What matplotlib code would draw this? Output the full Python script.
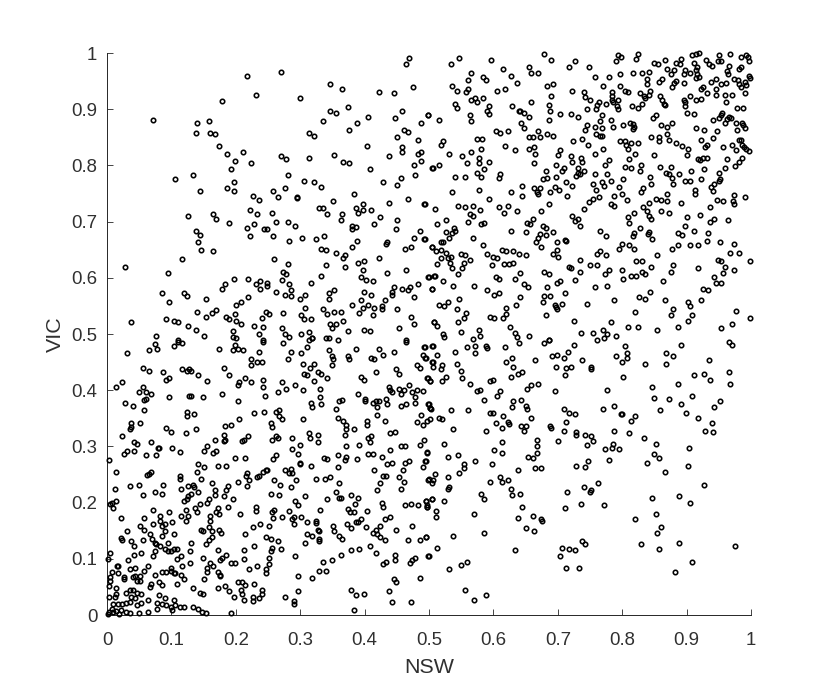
import matplotlib
matplotlib.use('Agg')
import matplotlib.pyplot as plt
import numpy as np

# (NSW, VIC), in thousandths
upper_left = [
    (469,991),(465,980),(217,959),(270,967),(347,944),(365,936),(231,926),(422,931),(445,928),(475,939),
    (299,920),(179,915),(374,904),(347,897),(356,894),(458,897),(499,889),(71,881),(140,876),(158,879),
    (335,879),(388,876),(406,887),(447,884),(488,876),(138,858),(160,858),(167,855),(313,858),(322,852),
    (376,863),(461,863),(467,860),(451,850),(483,845),(174,835),(404,835),(458,832),(458,824),(488,824),
    (483,821),(187,821),(211,824),(270,816),(278,811),(313,813),(353,819),(438,816),(199,808),(224,804),
    (367,806),(376,804),(477,801),(488,808),(505,796),(192,793),(408,793),(106,775),(133,783),(281,783),
    (479,783),(197,770),(306,772),(322,770),(429,770),(456,777),(451,765),(187,760),(197,754),(144,754),
    (258,754),(276,760),(333,762),(226,746),(265,744),(295,744),(295,742),(236,739),(383,749),(467,741),
    (351,736),(438,733),(492,731),(222,721),(329,724),(335,724),(386,724),(397,731),(397,721),(410,721),
    (390,715),(126,710),(165,713),(169,705),(233,713),(256,715),(342,713),(365,713),(424,708),(363,702),
    (451,702),(190,697),(262,700),(281,700),(229,695),(292,692),(415,695),(381,692),(381,687),(386,690),
    (217,689),(244,687),(249,687),(138,684),(449,687),(486,684),(144,676),(222,674),(258,674),(337,674),
    (303,671),(324,669),(283,666),(388,666),(477,671),(492,669),(142,663),(435,663),(433,661),(381,655),
    (472,655),(463,652),(504,655),(333,652),(340,650),(146,650),(165,648),(356,645),(369,640),(367,635),
    (422,635),(117,633),(260,633),(390,627),(399,630),(281,624),(340,622),(28,619),(369,619),(274,611),
    (278,606),(397,613),(465,613),(94,609),(435,609),(333,604),(499,601),(507,604),(197,598),(219,598),
    (272,596),(395,601),(402,596),(413,594),(238,594),(231,589),(249,591),(249,585),(316,591),(283,589),
    (183,589),(179,580),(238,580),(286,578),(445,584),(443,575),(443,570),(458,580),(470,584),(467,578),
    (483,589),(504,580),(353,578),(345,573),(85,573),(119,573),(124,567),(262,575),(276,570),(286,567),
    (308,570),(399,575),(410,570),(153,562),(219,565),(299,562),(345,562),(477,565),(431,560),(395,560),
    (97,557),(208,557),(201,552),(381,552),(406,552),(415,547),(397,547),(427,550),(427,545),(308,547),
    (335,545),(451,545),(140,540),(169,543),(163,538),(247,540),(252,535),(274,538),(353,540),(363,540),
    (392,538),(199,535),(342,535),(153,531),(185,531),(190,526),(301,533),(306,526),(317,526),(240,528),
    (413,533),(472,531),(92,526),(104,523),(110,521),(37,521),(201,523),(208,518),(367,523),(347,518),
    (356,518),(349,510),(477,518),(507,521),(126,515),(138,508),(229,515),(242,513),(272,510),(454,510),
    (399,508),(408,505),(374,505),(195,505),(236,500),(301,500),(313,503),(276,500),(283,494),(76,497),
    (151,497),(195,494),(201,492),(319,492),(340,492),(345,492),(358,490),(110,489),(465,489),(242,489),
]

upper_right = [
    (534,980),(547,991),(597,988),(679,998),(690,988),(615,972),(656,975),(659,965),(670,965),(718,975),
    (727,985),(748,975),(791,985),(793,996),(798,993),(822,990),(825,998),(565,965),(627,959),(584,957),
    (588,952),(561,952),(636,946),(757,957),(780,957),(796,962),(816,965),(830,965),(841,967),(839,954),
    (839,944),(850,983),(855,980),(866,988),(870,972),(875,962),(884,983),(891,990),(889,980),(881,970),
    (896,962),(898,970),(905,965),(909,996),(914,998),(920,1000),(912,983),(916,975),(914,970),(930,988),
    (935,981),(940,977),(948,985),(950,996),(953,985),(968,998),(984,993),(993,996),(995,993),(997,985),
    (966,977),(962,968),(964,962),(984,975),(981,972),(916,962),(919,957),(914,955),(945,954),(938,948),
    (857,948),(862,954),(883,950),(880,946),(896,946),(878,939),(926,939),(923,936),(945,936),(954,944),
    (961,946),(973,954),(980,952),(997,959),(999,955),(990,948),(981,944),(984,939),(992,943),(536,941),
    (543,933),(557,931),(561,936),(606,933),(618,936),(683,941),(692,944),(722,933),(770,941),(797,941),
    (805,933),(809,931),(741,931),(743,922),(750,916),(784,931),(784,923),(784,916),(843,933),(827,928),
    (834,923),(836,920),(841,926),(859,923),(862,917),(865,910),(866,907),(905,923),(896,917),(898,913),
    (898,905),(914,917),(923,919),(932,928),(945,926),(959,926),(971,926),(991,928),(961,913),(690,923),
    (686,908),(688,897),(659,913),(565,917),(572,920),(575,913),(584,920),(540,910),(543,903),(593,905),
    (590,897),(593,892),(629,905),(639,896),(642,897),(647,894),(656,887),(563,889),(565,879),(499,889),
    (515,881),(686,881),(704,892),(720,892),(732,887),(745,900),(759,900),(761,907),(764,912),(775,910),
    (786,913),(794,916),(792,905),(794,900),(815,905),(825,902),(831,910),(768,889),(766,879),(782,881),
    (852,890),(848,884),(900,894),(911,892),(979,902),(988,902),(955,894),(953,890),(950,884),(941,881),
    (966,887),(969,884),(963,883),(812,876),(817,873),(819,869),(816,865),(802,871),(786,869),(768,866),
    (757,869),(745,871),(743,863),(861,871),(870,869),(877,876),(977,876),(986,876),(988,871),(990,866),
    (979,863),(959,876),(914,866),(927,863),(947,861),(643,876),(648,866),(604,861),(611,858),(622,861),
    (670,861),(672,850),(684,856),(693,853),(655,850),(661,850),(760,855),(765,852),(768,852),(845,850),
    (857,850),(857,843),(873,845),(869,855),(738,847),(724,843),(747,837),(574,847),(583,847),(522,843),
    (518,837),(618,835),(634,827),(655,830),(663,832),(797,843),(804,843),(806,836),(814,840),(824,840),
    (884,840),(893,835),(902,830),(923,845),(932,837),(929,832),(941,848),(970,837),(956,832),(981,845),
    (984,845),(986,836),(989,833),(992,830),(997,825),(977,827),(581,830),(565,824),(531,821),(704,827),
    (701,819),(665,821),(663,804),(770,830),(757,821),(809,830),(820,821),(811,811),(850,819),(900,819),
    (552,816),(559,804),(577,813),(577,804),(593,806),(720,816),(722,806),(736,813),(738,806),(780,809),
    (773,801),(917,811),(921,810),(932,813),(925,813),(986,813),(982,806),(975,799),(963,811),(506,795),
    (515,801),(586,793),(575,787),(581,780),(681,790),(697,801),(709,796),(706,790),(731,796),(740,790),
    (732,786),(728,782),(735,785),(804,798),(813,796),(829,801),(827,790),(858,798),(875,798),(868,787),
    (873,785),(877,777),(879,767),(927,793),(907,790),(888,785),(959,796),(950,787),(610,784),(608,778),
    (540,780),(556,780),(677,775),(684,777),(697,780),(757,785),(777,785),(782,772),(768,770),(771,764),
    (754,767),(802,775),(795,762),(843,780),(845,767),(898,772),(905,772),(923,775),(952,776),(950,773),
    (943,767),(938,762),(713,770),(722,764),(645,764),(663,760),(672,760),(668,753),(670,750),(688,752),
    (695,762),(702,757),(759,757),(833,760),(829,752),(941,755),(913,757),(913,749),(577,756),(536,752),
    (627,752),(645,746),(715,746),(800,749),(788,746),(807,739),(870,749),(852,741),(861,739),(870,736),
    (764,744),(754,741),(593,741),(974,747),(991,744),(972,736),(973,731),(947,739),(956,736),(494,731),
    (510,723),(545,728),(556,726),(568,728),(579,721),(748,735),(740,723),(686,731),(674,718),(891,733),
    (782,731),(787,728),(841,733),(833,726),(838,718),(860,719),(873,715),(936,726),(608,726),(622,728),
    (616,715),(636,718),(563,713),(569,710),(561,700),(722,710),(731,705),(726,701),(734,692),(818,715),
    (809,708),(811,697),(845,705),(841,710),(921,711),(900,708),(964,702),(943,705),(936,700),(661,705),
    (652,697),(657,695),(526,702),(513,695),(581,695),(586,697),(677,692),(682,689),(827,689),(898,692),
    (539,689),(540,683),(536,679),(526,681),(531,671),(627,684),(650,681),(672,678),(681,676),(693,681),
    (670,671),(666,663),(766,684),(775,674),(842,681),(840,678),(847,669),(818,680),(816,674),(911,684),
    (886,679),(893,676),(933,679),(568,670),(494,669),(711,668),(713,666),(932,666),(952,663),(518,663),
    (522,663),(505,655),(511,648),(518,650),(526,645),(584,658),(674,655),(699,663),(699,650),(800,660),
    (795,652),(811,658),(818,652),(878,652),(887,658),(906,658),(918,658),(974,661),(968,645),(982,645),
    (613,650),(619,648),(631,648),(640,643),(651,640),(590,642),(600,637),(606,636),(692,642),(701,637),
    (765,648),(761,642),(775,640),(549,642),(556,640),(563,632),(554,627),(552,617),(529,636),(534,637),
    (533,627),(518,635),(513,624),(536,617),(545,606),(854,640),(734,632),(822,630),(831,630),(948,632),
    (954,630),(959,619),(973,614),(957,609),(998,630),(598,623),(617,624),(624,624),(631,627),(718,619),
    (720,617),(750,622),(761,622),(845,619),(879,622),(875,611),(918,617),(679,611),(686,606),(642,609),
    (634,598),(734,611),(780,613),(773,606),(800,613),(802,598),(813,604),(822,604),(831,611),(836,606),
    (604,601),(608,598),(500,601),(509,604),(522,594),(538,585),(504,580),(704,595),(699,591),(727,596),
    (863,594),(942,601),(945,591),(954,591),(648,589),(654,583),(570,585),(590,578),(683,583),(757,583),
    (777,585),(925,580),(934,578),(843,575),(601,570),(608,573),(679,567),(688,567),(711,573),(826,565),
    (836,562),(641,565),(547,562),(866,560),(922,560),(902,557),(906,550),(677,557),(706,554),(695,552),
    (697,548),(699,544),(745,554),(788,560),(515,552),(524,550),(529,557),(543,544),(635,552),(619,547),
    (879,544),(976,541),(558,538),(554,528),(545,521),(594,531),(601,528),(619,536),(615,528),(681,533),
    (820,539),(875,533),(909,533),(998,528),(725,523),(782,521),(902,523),(508,521),(513,515),(625,513),
    (809,513),(825,513),(886,513),(970,518),(954,510),(854,508),(577,508),(579,497),(569,491),(550,504),
    (522,500),(524,494),(634,502),(636,494),(656,497),(686,490),(736,502),(754,502),(770,508),(777,500),
    (790,497),(772,492),(761,490),
]

lower_left = [
    (74,482),(78,474),(65,471),(104,479),(110,486),(117,484),(31,466),(174,473),(195,471),(199,481),
    (204,473),(211,471),(236,468),(242,486),(274,484),(286,468),(281,455),(301,466),(310,477),(313,489),
    (319,492),(345,471),(349,460),(351,455),(349,445),(374,460),(376,455),(386,473),(422,473),(429,463),
    (445,468),(465,486),(492,476),(490,463),(495,458),(505,479),(410,458),(415,455),(417,432),(224,455),
    (224,445),(233,450),(240,450),(304,447),(315,440),(322,447),(481,445),(486,440),(504,450),(449,437),
    (454,429),(56,440),(65,435),(87,432),(92,419),(97,422),(117,437),(124,435),(128,437),(130,435),
    (181,440),(190,427),(306,429),(310,427),(327,432),(332,429),(342,422),(322,416),(394,424),(399,419),
    (142,427),(156,416),(215,422),(224,414),(242,419),(242,406),(245,390),(205,414),(204,409),(24,414),
    (14,406),(56,406),(49,396),(60,396),(69,393),(272,414),(278,403),(265,396),(292,409),(304,401),
    (331,403),(331,388),(333,375),(317,377),(319,370),(438,406),(440,400),(443,396),(454,403),(461,401),
    (456,393),(469,409),(481,401),(490,398),(474,396),(499,422),(502,416),(479,388),(479,377),(97,388),
    (128,390),(130,390),(149,388),(179,393),(360,380),(365,383),(390,393),(401,385),(401,380),(413,377),
    (417,380),(422,380),(420,370),(420,356),(433,385),(435,375),(456,372),(465,375),(499,375),(501,369),
    (503,367),(28,377),(40,372),(58,382),(60,385),(58,364),(203,380),(124,362),(124,354),(135,357),
    (228,359),(244,362),(263,362),(267,364),(267,354),(272,349),(356,367),(358,351),(367,346),(371,338),
    (371,331),(369,320),(383,331),(404,346),(404,338),(431,346),(488,356),(481,344),(490,338),(497,346),
    (205,349),(304,348),(51,341),(37,341),(37,335),(35,331),(254,341),(256,335),(92,333),(99,325),
    (138,331),(122,323),(192,338),(183,336),(181,321),(181,310),(24,318),(42,308),(47,305),(69,308),
    (219,318),(212,312),(210,310),(263,318),(265,315),(256,312),(288,315),(313,324),(315,315),(327,320),
    (327,308),(406,315),(410,318),(408,308),(440,323),(447,325),(492,312),(167,312),(183,312),(156,300),
    (299,302),(288,295),(296,287),(371,300),(392,302),(456,300),(463,300),(486,302),(79,297),(81,297),
    (101,297),(31,292),(42,292),(26,287),(113,290),(151,292),(165,289),(169,292),(60,284),(76,284),
    (263,284),(258,277),(358,284),(371,282),(369,275),(406,287),(413,287),(427,282),(440,294),(497,290),
    (3,276),(199,279),(215,279),(337,279),(342,277),(388,277),(299,270),(299,268),(435,268),(443,271),
    (463,271),(469,274),(494,274),(490,264),(142,268),(151,264),(172,266),(185,266),(317,266),(358,264),
    (247,258),(242,255),(249,258),(236,248),(233,246),(276,258),(283,252),(288,252),(286,260),(14,255),
    (140,255),(415,258),(429,248),(434,248),(460,258),(62,250),(65,251),(69,255),(113,248),(113,242),
    (146,242),(217,252),(216,248),(221,240),(217,230),(203,237),(260,240),(269,232),(286,227),(294,240),
    (324,242),(338,242),(347,245),(360,235),(454,245),(461,237),(456,224),(424,235),(420,222),(499,240),
    (506,240),(35,229),(49,232),(87,232),(85,216),(12,224),(74,218),(56,214),(126,229),(133,231),
    (135,227),(115,224),(163,235),(167,222),(167,214),(188,229),(185,222),(181,211),(142,218),(130,216),
    (126,211),(124,207),(119,203),(254,216),(267,214),(308,211),(356,218),(361,208),(363,208),(379,214),
    (390,208),(195,206),(158,206),(155,200),(342,206),(504,206),(495,203),(497,196),(497,193),(144,198),
    (292,203),(296,196),(385,198),(427,200),(429,193),(463,196),(472,198),(483,196),(14,203),(7,200),
    (5,198),(10,190),(188,193),(136,190),(140,183),(122,187),(71,187),(83,177),(97,183),(172,190),
    (170,183),(174,179),(231,193),(231,185),(260,187),(256,183),(258,172),(283,185),(331,187),(404,185),
    (374,189),(377,183),(383,183),(115,177),(126,177),(160,177),(160,167),(206,180),(290,175),(288,170),
    (290,162),(301,175),(272,175),(22,172),(58,172),(83,167),(85,158),(101,165),(90,162),(71,162),
    (122,167),(324,167),(324,163),(311,165),(431,170),(440,175),(395,170),(390,165),(386,165),(372,162),
    (379,154),(238,162),(226,157),(252,159),(351,159),(353,149),(51,159),(58,152),(402,157),(424,159),
    (417,152),(413,146),(420,144),(424,139),(431,133),(474,159),(449,152),(146,152),(149,149),(158,157),
    (163,149),(174,152),(177,146),(31,149),(90,149),(67,144),(85,140),(104,144),(327,152),(329,150),
    (215,144),(311,144),(319,140),(360,140),(365,135),(22,137),(24,133),(56,133),(37,131),(70,135),
    (74,129),(76,126),(163,139),(158,133),(154,126),(247,139),(254,136),(265,131),(329,136),(329,131),
    (308,128),(467,133),(486,133),(495,139),(131,128),(94,128),(42,123),(83,123),(229,123),(256,120),
    (270,118),(254,113),(379,116),(392,118),(408,123),(90,118),(94,113),(104,118),(99,113),(74,113),
    (71,105),(108,117),(115,105),(108,100),(129,113),(172,116),(213,116),(5,110),(1,100),(42,107),
    (53,110),(185,107),(176,97),(179,102),(292,105),(363,107),(417,110),(447,107),(447,97),(149,102),
    (213,100),(252,102),(252,90),(33,97),(479,102),(474,98),(470,92),(499,105),(336,94),(349,97),
    (433,94),(429,90),(129,92),(192,92),(199,92),(160,92),(156,84),(165,87),(15,88),(17,87),
    (35,82),(44,84),(63,87),(58,79),(117,87),(221,82),(233,87),(247,81),(99,84),(99,79),
    (104,75),(92,76),(85,76),(74,71),(156,77),(172,76),(247,74),(329,79),(340,79),(8,76),
    (17,74),(5,67),(115,71),(106,74),(119,64),(176,71),(176,69),(44,69),(40,67),(51,69),
    (27,67),(26,64),(297,69),(318,66),(151,64),(486,66),(445,64),(449,58),(47,61),(51,61),
    (5,61),(81,58),(85,53),(69,56),(203,58),(209,58),(215,53),(229,56),(109,56),(67,49),
    (3,51),(14,48),(133,48),(172,48),(183,51),(190,43),(208,45),(240,45),(379,45),(438,42),
    (296,42),(35,45),(40,45),(29,40),(47,40),(144,40),(149,38),(240,38),(210,38),(14,38),
    (12,32),(3,32),(53,37),(37,32),(44,30),(386,35),(399,37),(81,35),(90,30),(104,27),
    (197,32),(226,32),(236,30),(213,27),(226,25),(276,32),(290,25),(290,19),(443,24),(472,24),
    (63,27),(53,22),(47,18),(35,24),(29,22),(24,19),(17,19),(10,19),(78,22),(85,19),
    (92,18),(99,15),(106,17),(113,14),(120,14),(133,14),(142,11),(147,6),(154,4),(78,11),
    (101,9),(63,6),(384,9),(192,4),(8,11),(3,5),(1,1),(14,8),(22,9),(29,6),
    (35,4),(49,4),(19,1),(10,5),
]

lower_right = [
    (494,476),(506,479),(513,463),(540,468),(559,476),(572,479),(572,466),(588,479),(590,475),(618,476),
    (494,458),(506,450),(506,442),(520,445),(518,437),(543,447),(549,435),(551,422),(620,450),(629,458),
    (631,442),(640,484),(665,453),(679,484),(686,489),(725,481),(716,468),(691,460),(699,463),(709,458),
    (738,453),(697,442),(713,440),(720,442),(711,427),(752,442),(752,437),(805,479),(807,466),(807,458),
    (790,460),(800,450),(802,424),(836,447),(868,466),(879,460),(868,447),(891,481),(966,486),(970,481),
    (935,453),(911,427),(927,429),(936,419),(966,432),(968,411),(886,411),(847,406),(849,387),(873,385),
    (909,390),(892,375),(859,364),(899,359),(918,351),(952,380),(943,370),(939,341),(929,328),(941,325),
    (777,401),(770,367),(788,372),(798,357),(800,357),(813,346),(820,354),(788,328),(811,323),(834,315),
    (852,305),(904,297),(849,287),(857,279),(838,271),(866,255),(902,266),(927,232),(888,212),(906,200),
    (847,209),(852,180),(820,170),(861,157),(854,146),(829,126),(857,117),(888,128),(975,123),(909,94),
    (882,76),(738,131),(743,126),(707,120),(718,117),(727,115),(704,105),(713,84),(733,84),(556,45),
    (570,27),(588,35),(531,81),(549,89),(559,94),(634,115),(513,120),(500,105),(538,141),(586,146),
    (495,139),(650,154),(663,149),(638,172),(661,177),(674,170),(676,167),(570,180),(511,185),(511,175),
    (645,193),(711,190),(736,198),(772,196),(715,219),(741,227),(750,219),(752,222),(763,235),(581,216),
    (586,206),(627,224),(629,214),(642,216),(524,203),(504,206),(495,203),(497,193),(611,246),(613,237),
    (622,240),(595,237),(529,245),(529,224),(531,227),(500,242),(504,235),(509,251),(547,253),(554,261),
    (554,268),(545,284),(572,274),(598,268),(638,258),(665,261),(674,261),(729,266),(743,263),(747,274),
    (779,276),(774,295),(784,297),(795,295),(786,305),(745,302),(754,310),(752,318),(743,321),(729,326),
    (729,320),(701,310),(709,328),(713,344),(727,357),(718,360),(709,367),(688,336),(690,333),(668,312),
    (668,300),(668,289),(654,281),(661,279),(613,307),(601,294),(613,289),(643,336),(650,336),(647,328),
    (659,351),(604,341),(613,333),(623,344),(624,339),(588,328),(615,354),(595,359),(599,359),(629,370),
    (631,380),(643,383),(650,372),(652,367),(586,383),(606,390),(611,398),(695,398),(670,411),(659,409),
    (652,403),(574,398),(579,401),(627,424),(638,429),(645,432),(595,416),(599,419),(497,422),(501,416),
    (520,416),(526,424),(563,411),(500,375),(501,368),(534,364),(561,364),(515,351),(520,349),(501,349),
    (538,331),(524,305),(497,289),(529,281),(495,274),
]

x_ticks = [0, 0.1, 0.2, 0.3, 0.4, 0.5, 0.6, 0.7, 0.8, 0.9, 1]
tick_labels = ['0', '0.1', '0.2', '0.3', '0.4', '0.5', '0.6', '0.7', '0.8', '0.9', '1']

points = np.array(upper_left + upper_right + lower_left + lower_right) / 1000
nsw = points[:, 0]
vic = points[:, 1]

plt.rcParams['font.family'] = ['Liberation Sans', 'DejaVu Sans']
GRAY = '#262626'
TEXT = '#303030'

fig = plt.figure(figsize=(8.30, 6.92), dpi=100)
ax = fig.add_axes([107 / 830, 1 - 615 / 692, 644 / 830, 562 / 692])

ax.plot(nsw, vic, 'o', mfc='none', mec='black', ms=3.2, mew=1.15, clip_on=False, zorder=3)

ax.set_xlim(0, 1)
ax.set_ylim(0, 1)
ax.set_xticks(x_ticks)
ax.set_xticklabels(tick_labels)
ax.set_yticks(x_ticks)
ax.set_yticklabels(tick_labels)
ax.tick_params(direction='in', length=4.6, width=0.6, color=GRAY, labelcolor=TEXT, labelsize=13.4)
ax.tick_params(axis='x', pad=12)
ax.tick_params(axis='y', pad=7)
ax.spines['top'].set_visible(False)
ax.spines['right'].set_visible(False)
for side in ['left', 'bottom']:
    ax.spines[side].set_linewidth(0.7)
    ax.spines[side].set_color(GRAY)
ax.set_xlabel('NSW', fontsize=15.4, color=TEXT, labelpad=7)
ax.set_ylabel('VIC', fontsize=15.4, color=TEXT, labelpad=4.5)

fig.savefig('out.png', dpi=100)
